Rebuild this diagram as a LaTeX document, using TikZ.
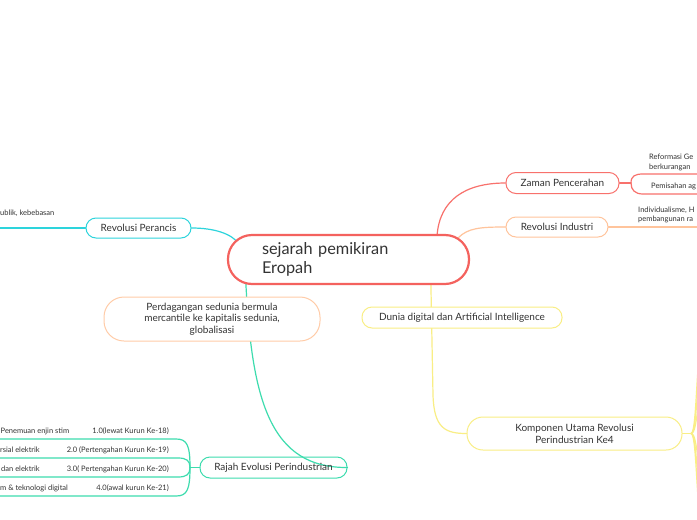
\documentclass[tikz,border=0pt]{standalone}
\usepackage{fontspec}
\setmainfont{Lato}
\usetikzlibrary{backgrounds,calc}
\definecolor{cred}{HTML}{F4625E}
\definecolor{cred2}{HTML}{F8716C}
\definecolor{corange}{HTML}{FFC49C}
\definecolor{corange2}{HTML}{FFCCA8}
\definecolor{ccyan}{HTML}{2DD4DC}
\definecolor{cteal}{HTML}{3DDCAE}
\definecolor{cyel}{HTML}{F9EE85}
\definecolor{ctext}{HTML}{333333}
\begin{document}
\begin{tikzpicture}[x=1pt,y=-1pt,
  box/.style={draw, line width=1pt, rounded corners=10pt, fill=white, text=ctext,
    font=\fontsize{10}{11.5}\selectfont, inner sep=0pt, align=center},
  lbl/.style={text=ctext, font=\fontsize{7.5}{9.5}\selectfont, inner sep=0pt},
  conn/.style={line width=1.2pt, line cap=round}]
\useasboundingbox (0,0) rectangle (697,520);
\clip (0,0) rectangle (697,520);

% central
\node[draw=cred, line width=2.2pt, rounded corners=24pt, fill=white,
  minimum width=241pt, minimum height=49pt, text width=173pt, inner xsep=34pt,
  inner ysep=0pt, align=left, text=ctext, font=\fontsize{16.3}{19}\selectfont]
  (c) at (348.5,259.5) {sejarah pemikiran\\Eropah};

% main topics
\node[box, draw=cred2, minimum width=113pt, minimum height=21pt] (z) at (562.5,183) {Zaman Pencerahan};
\node[box, draw=corange, minimum width=102pt, minimum height=20pt] (ri) at (557,227) {Revolusi Industri};
\node[box, draw=ccyan, minimum width=105pt, minimum height=20pt] (rp) at (138.5,228) {Revolusi Perancis};
\node[box, draw=corange2, rounded corners=20pt, minimum width=216pt, minimum height=44pt] (pd) at (212,319)
  {Perdagangan sedunia bermula\\mercantile ke kapitalis sedunia,\\globalisasi};
\node[box, draw=cyel, minimum width=200pt, minimum height=21pt] (dd) at (462,317.5) {Dunia digital dan Artificial Intelligence};
\node[box, draw=cteal, fill=none, minimum width=147pt, minimum height=21pt] (rj) at (273.5,467.5) {Rajah Evolusi Perindustrian};
\node[box, draw=cyel, rounded corners=16pt, minimum width=215pt, minimum height=33pt, font=\fontsize{10}{12}\selectfont] (k) at (574.5,433.5)
  {Komponen Utama Revolusi\\Perindustrian Ke4};

% labels
\node[lbl, anchor=base west] (zt1) at (649,159.5) {Reformasi Ge};
\node[lbl, anchor=base west] (zt2) at (649,169.5) {berkurangan};
\node[lbl, anchor=base west] (zt3) at (651,188.5) {Pemisahan ag};
\node[lbl, anchor=base west] (it1) at (638,212.5) {Individualisme, H};
\node[lbl, anchor=base west] (it2) at (638,221.5) {pembangunan ra};
\node[lbl, anchor=base west] (pt1) at (0,215.5) {ublik, kebebasan};

\node[lbl, anchor=base west] (a1) at (0.5,433.5) {Penemuan enjin stim};
\node[lbl, anchor=base east] (b1) at (169,433.5) {1.0(lewat Kurun Ke-18)};
\node[lbl, anchor=base east] (a2) at (40,452.5) {rsial elektrik};
\node[lbl, anchor=base east] (b2) at (169,452.5) {2.0 (Pertengahan Kurun Ke-19)};
\node[lbl, anchor=base east] (a3) at (40,471.5) {dan elektrik};
\node[lbl, anchor=base east] (b3) at (169,471.5) {3.0( Pertengahan Kurun Ke-20)};
\node[lbl, anchor=base west] (a4) at (0,490.5) {m \& teknologi digital};
\node[lbl, anchor=base east] (b4) at (169,490.5) {4.0(awal kurun Ke-21)};

\coordinate (J) at (190,467.5);
\coordinate (Zj) at (631,183);
\coordinate (Kj) at (691,433.5);

\begin{scope}[on background layer]
  \fill[white] (0,0) rectangle (697,520);
  \clip (0,0) rectangle (697,520);
  % central connectors
  \draw[cred2, conn] ($(c.north east)+(-33,1)$) .. controls (440,200) and (465,183) .. (z.west);
  \draw[corange, conn] ($(c.north east)+(-12,4)$) .. controls (468,228) and (480,227) .. (ri.west);
  \draw[ccyan, conn] (rp.east) .. controls (215,228) and (232,234) .. ($(c.north west)+(12,10)$);
  \draw[cteal, conn] ($(c.south west)+(19,-1)$) .. controls (252,400) and (270,468) .. (rj.east);
  \draw[cyel, conn] ($(c.south west)+(204,-1)$) -- (433,395) .. controls (434,428) and (445,433.5) .. (k.west);
  % Zaman children
  \draw[cred2, conn] (z.east) -- (Zj);
  \draw[cred2, conn] (Zj) .. controls (631,176) and (635,174) .. (643,174) -- (710,174);
  \draw[cred2, conn] (Zj) .. controls (631,190) and (635,194) .. (643,194) -- (710,194);
  % Revolusi Industri child
  \draw[corange, conn] (ri.east) -- (710,227);
  % Revolusi Perancis child
  \draw[ccyan, conn] (rp.west) -- (-10,228);
  % Rajah children
  \draw[cteal, conn] (rj.west) -- (J);
  \draw[cteal, conn] (J) .. controls (190,445) and (187,439) .. (176,439) -- (-10,439);
  \draw[cteal, conn] (J) .. controls (190,461) and (187,458) .. (178,458) -- (-10,458);
  \draw[cteal, conn] (J) .. controls (190,474) and (187,477) .. (178,477) -- (-10,477);
  \draw[cteal, conn] (J) .. controls (190,490) and (187,496) .. (176,496) -- (-10,496);
  % Komponen children
  \draw[cyel, conn] (k.east) -- (Kj);
  \foreach \yy in {300,345,385,480,520,565} {
    \draw[cyel, conn] (Kj) .. controls (699,433.5) and (694,\yy) .. (715,\yy);
  }
\end{scope}
\end{tikzpicture}
\end{document}
